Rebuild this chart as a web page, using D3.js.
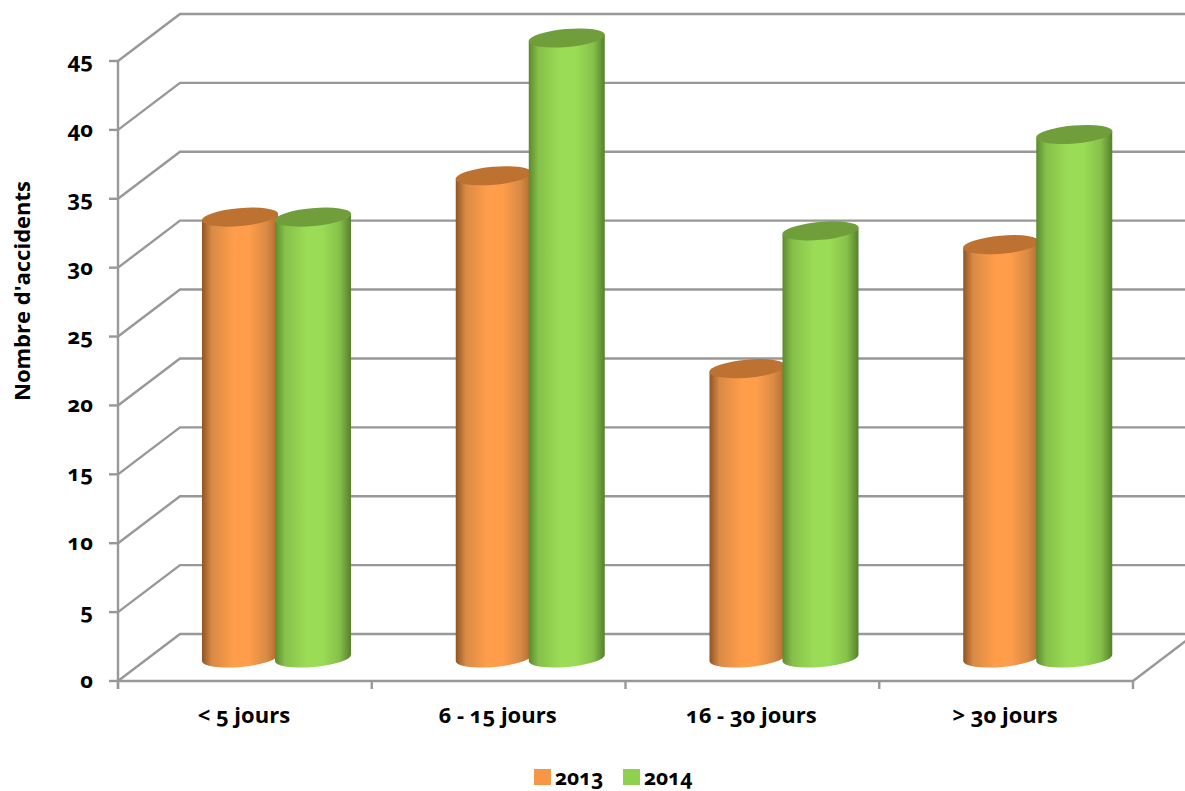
<!DOCTYPE html>
<html><head><meta charset="utf-8">
<script src="https://d3js.org/d3.v7.min.js"></script>
<style>
html,body{margin:0;padding:0;background:#fff;overflow:hidden}
text{font-family:"Open Sans","Lato",sans-serif;font-weight:700;fill:#000;font-feature-settings:"onum" 1;font-variant-numeric:oldstyle-nums}
</style></head><body><svg id="c" width="1185" height="791"></svg>
<script>
const categories=["< 5 jours","6 - 15 jours","16 - 30 jours","> 30 jours"];
const seriesNames=["2013","2014"];
const values2013=[32,35,21,30];
const values2014=[32,45,31,38];
const yTicks=[0,5,10,15,20,25,30,35,40,45];
const axisTitle="Nombre d'accidents";
const colors={
 "2013":{side:"#ff9d4a",dark:"#8f5426",mid:"#d98a45",end:"#b06a2c",top:"#bd7231",legend:"#f79646"},
 "2014":{side:"#9bdc56",dark:"#5c8a2e",mid:"#86c04a",end:"#55802c",top:"#6f9e3a",legend:"#8fd14f"}
};
const W=1185,H=791,dx=62,dy=-47,grid="#989898";
const svg=d3.select("#c");
const y=d3.scaleLinear().domain([0,45]).range([681,61]);
const x0=d3.scaleBand().domain(categories).range([118,1133]);
const x1=d3.scaleBand().domain(seriesNames).range([85.5,231.5]);

const defs=svg.append("defs");
seriesNames.forEach(s=>{
 const c=colors[s];
 const g=defs.append("linearGradient").attr("id","g"+s);
 [[0,c.dark],[.13,c.mid],[.42,c.side],[.62,c.side],[.85,c.mid],[1,c.end]].forEach(([o,col])=>g.append("stop").attr("offset",o).attr("stop-color",col));
});

const g=svg.append("g").attr("fill","none").attr("stroke",grid).attr("stroke-width",2.4);
yTicks.forEach(t=>{
 const yy=y(t);
 g.append("path").attr("d",`M${118} ${yy}L${118+dx} ${yy+dy}L${W} ${yy+dy}`);
 g.append("line").attr("x1",109).attr("x2",118).attr("y1",yy).attr("y2",yy);
});
g.append("line").attr("x1",118).attr("x2",118).attr("y1",y(45)).attr("y2",y(0)+8);
g.append("line").attr("x1",118).attr("x2",1133).attr("y1",y(0)).attr("y2",y(0));
g.append("line").attr("x1",1133).attr("x2",1133+dx).attr("y1",y(0)).attr("y2",y(0)+dy);
categories.forEach(c=>{
 const xx=x0(c);
 g.append("line").attr("x1",xx).attr("x2",xx).attr("y1",y(0)).attr("y2",y(0)+8);
});
g.append("line").attr("x1",1133).attr("x2",1133).attr("y1",y(0)).attr("y2",y(0)+8);

const rx=38,ry=9,tilt=-5,base=23;
const tiltDy=rx*Math.sin(-tilt*Math.PI/180);
const data=[];
seriesNames.forEach((s,si)=>{
 const vals=si===0?values2013:values2014;
 categories.forEach((c,i)=>data.push({s,c,v:vals[i]}));
});
const bars=svg.append("g");
categories.forEach(c=>{
 seriesNames.forEach(s=>{
  const d=data.find(e=>e.c===c&&e.s===s);
  const cx=x0(c)+x1(s)+x1.bandwidth()/2;
  const yb=y(0)-base, yt=y(d.v)-base;
  bars.append("path").attr("fill",`url(#g${s})`)
   .attr("d",`M${cx-rx} ${yt+tiltDy}L${cx-rx} ${yb+tiltDy}A${rx} ${ry} ${tilt} 0 0 ${cx+rx} ${yb-tiltDy}L${cx+rx} ${yt-tiltDy}Z`);
  bars.append("ellipse").attr("fill",colors[s].top)
   .attr("transform",`translate(${cx},${yt}) rotate(${tilt})`)
   .attr("rx",rx+.3).attr("ry",ry);
 });
});

const fs=22;
yTicks.forEach(t=>svg.append("text").attr("x",93).attr("y",y(t)+7).attr("text-anchor","end").attr("font-size",fs).text(t));
categories.forEach(c=>svg.append("text").attr("x",x0(c)+x0.bandwidth()/2-1).attr("y",723).attr("text-anchor","middle").attr("font-size",fs).text(c));
svg.append("text").attr("transform","translate(30,291) rotate(-90)").attr("text-anchor","middle").attr("font-size",22).text(axisTitle);

const lx=d3.scaleOrdinal().domain(seriesNames).range([534,623]);
seriesNames.forEach(s=>{
 svg.append("rect").attr("x",lx(s)).attr("y",769).attr("width",17).attr("height",16).attr("fill",colors[s].legend);
 svg.append("text").attr("x",lx(s)+21).attr("y",785).attr("font-size",21).text(s);
});
</script></body></html>
